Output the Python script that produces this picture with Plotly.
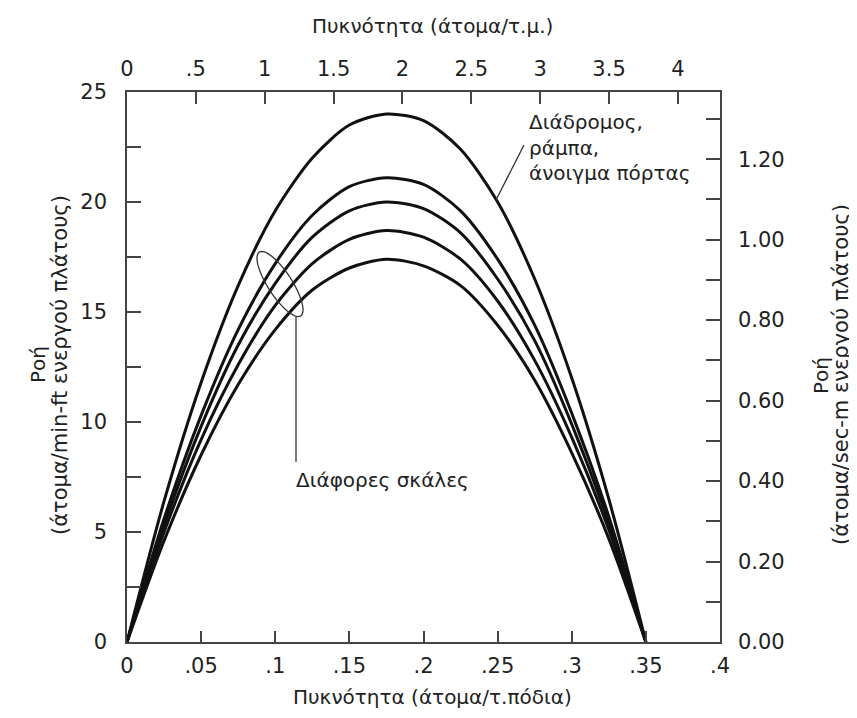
import math
import plotly.graph_objects as go

# ---------------- data ----------------
density_ft = [0, 0.025, 0.05, 0.075, 0.1, 0.125, 0.15, 0.175, 0.2, 0.225, 0.25, 0.275, 0.3, 0.325, 0.35]
flow_corridor = [0, 6.4, 11.8, 16.2, 19.6, 22.0, 23.5, 24.0, 23.7, 22.4, 20.0, 16.5, 12.0, 6.5, 0]
flow_stair_1 = [0, 5.6, 10.3, 14.2, 17.2, 19.4, 20.7, 21.1, 20.8, 19.6, 17.4, 14.4, 10.4, 5.7, 0]
flow_stair_2 = [0, 5.3, 9.8, 13.5, 16.3, 18.4, 19.6, 20.0, 19.7, 18.6, 16.5, 13.7, 9.9, 5.4, 0]
flow_stair_3 = [0, 5.0, 9.2, 12.6, 15.3, 17.2, 18.3, 18.7, 18.4, 17.4, 15.5, 12.8, 9.3, 5.1, 0]
flow_stair_4 = [0, 4.6, 8.5, 11.7, 14.2, 16.0, 17.0, 17.4, 17.1, 16.2, 14.4, 11.9, 8.6, 4.7, 0]

bottom_ticks = [0, 0.05, 0.1, 0.15, 0.2, 0.25, 0.3, 0.35, 0.4]
bottom_labels = ["0", ".05", ".1", ".15", ".2", ".25", ".3", ".35", ".4"]
top_ticks = [0, 0.5, 1, 1.5, 2, 2.5, 3, 3.5, 4]
top_labels = ["0", ".5", "1", "1.5", "2", "2.5", "3", "3.5", "4"]
left_ticks = [0, 2.5, 5, 7.5, 10, 12.5, 15, 17.5, 20, 22.5, 25]
left_labels = ["0", "", "5", "", "10", "", "15", "", "20", "", "25"]
right_ticks = [0, 0.1, 0.2, 0.3, 0.4, 0.5, 0.6, 0.7, 0.8, 0.9, 1.0, 1.1, 1.2, 1.3]
right_labels = ["0.00", "", "0.20", "", "0.40", "", "0.60", "", "0.80", "", "1.00", "", "1.20", ""]

FT2_PER_M2 = 10.7639
M_PER_FT_MIN_TO_SEC = 1 / (60 * 0.3048)

X_MAX = 0.4
Y_MAX = 25

# ---------------- geometry (page pixels; page body has an 8px margin) ----------------
OFF = 8
PAGE_W, PAGE_H = 857, 718
W, H = PAGE_W - OFF, PAGE_H - OFF
L, R, T, B = 127, 720, 92, 642  # plot area in page pixels

fig = go.Figure()
for ys in [flow_corridor, flow_stair_1, flow_stair_2, flow_stair_3, flow_stair_4]:
    fig.add_trace(go.Scatter(x=density_ft, y=ys, mode="lines",
                             line=dict(color="#111111", width=3, shape="spline", smoothing=0.8),
                             showlegend=False, hoverinfo="skip"))

# invisible trace so the secondary axes render
fig.add_trace(go.Scatter(x=[0], y=[0], xaxis="x2", yaxis="y2", mode="markers",
                         marker=dict(opacity=0), showlegend=False, hoverinfo="skip"))

tickfont = dict(family="DejaVu Sans, sans-serif", size=21, color="#222222")
axcol = "#444444"

fig.update_layout(
    width=W, height=H,
    margin=dict(l=L - OFF, r=PAGE_W - R, t=T - OFF, b=PAGE_H - B),
    paper_bgcolor="white", plot_bgcolor="white",
    xaxis=dict(range=[0, X_MAX], tickvals=bottom_ticks, ticktext=bottom_labels,
               ticks="inside", ticklen=11, tickwidth=1.5, tickcolor=axcol,
               showline=True, linecolor=axcol, linewidth=1.5,
               showgrid=False, zeroline=False, tickfont=tickfont,
               ticklabelstandoff=4),
    yaxis=dict(range=[0, Y_MAX], tickvals=left_ticks, ticktext=left_labels,
               ticks="inside", ticklen=14, tickwidth=1.5, tickcolor=axcol,
               showline=True, linecolor=axcol, linewidth=1.5,
               showgrid=False, zeroline=False, tickfont=tickfont,
               ticklabelstandoff=14),
    xaxis2=dict(range=[0, X_MAX * FT2_PER_M2], overlaying="x", side="top",
                tickvals=top_ticks, ticktext=top_labels,
                ticks="inside", ticklen=12, tickwidth=1.5, tickcolor=axcol,
                showline=True, linecolor=axcol, linewidth=1.5,
                showgrid=False, zeroline=False, tickfont=tickfont,
                ticklabelstandoff=6),
    yaxis2=dict(range=[0, Y_MAX * M_PER_FT_MIN_TO_SEC], overlaying="y", side="right",
                tickvals=right_ticks, ticktext=right_labels,
                ticks="inside", ticklen=14, tickwidth=1.5, tickcolor=axcol,
                showline=True, linecolor=axcol, linewidth=1.5,
                showgrid=False, zeroline=False, tickfont=tickfont,
                ticklabelstandoff=12),
)


def px(x):
    return (x - L) / (R - L)


def py(y):
    return (B - y) / (B - T)


def text(x, y, s, size=21, angle=0, xanchor="center"):
    fig.add_annotation(x=px(x), y=py(y), xref="paper", yref="paper", showarrow=False,
                       xanchor=xanchor, yanchor="middle", text=s, textangle=angle,
                       font=dict(family="DejaVu Sans, sans-serif", size=size, color="#222222"))


# axis titles
text(432, 26, "Πυκνότητα (άτομα/τ.μ.)", size=20)
text(432, 697, "Πυκνότητα (άτομα/τ.πόδια)", size=20)
text(38, 365, "Ροή", size=20, angle=-90)
text(60, 365, "(άτομα/min-ft ενεργού πλάτους)", size=21, angle=-90)
text(821, 375, "Ροή", size=20, angle=-90)
text(841, 375, "(άτομα/sec-m ενεργού πλάτους)", size=21, angle=-90)

# curve labels
text(527, 122, "Διάδρομος,", size=20, xanchor="left")
text(527, 148, "ράμπα,", size=20, xanchor="left")
text(527, 173, "άνοιγμα πόρτας", size=20, xanchor="left")
text(294, 480, "Διάφορες σκάλες", size=20, xanchor="left")

# leader lines
fig.add_shape(type="line", xref="paper", yref="paper",
              x0=px(524), y0=py(145), x1=px(496), y1=py(200),
              line=dict(color="#333333", width=1.3))
fig.add_shape(type="line", xref="paper", yref="paper",
              x0=px(296), y0=py(317), x1=px(296), y1=py(462),
              line=dict(color="#333333", width=1.3))

# loop around the stair curves
cx, cy, a, b, ang = 280, 284, 38, 12, math.radians(57)
pts = []
for i in range(61):
    t = 2 * math.pi * i / 60
    ex = a * math.cos(t)
    ey = b * math.sin(t)
    X = cx + ex * math.cos(ang) - ey * math.sin(ang)
    Y = cy + ex * math.sin(ang) + ey * math.cos(ang)
    pts.append((px(X), py(Y)))
path = "M " + " L ".join(f"{x:.5f},{y:.5f}" for x, y in pts) + " Z"
fig.add_shape(type="path", xref="paper", yref="paper", path=path,
              line=dict(color="#333333", width=1.3))

fig.write_html("out.html")
